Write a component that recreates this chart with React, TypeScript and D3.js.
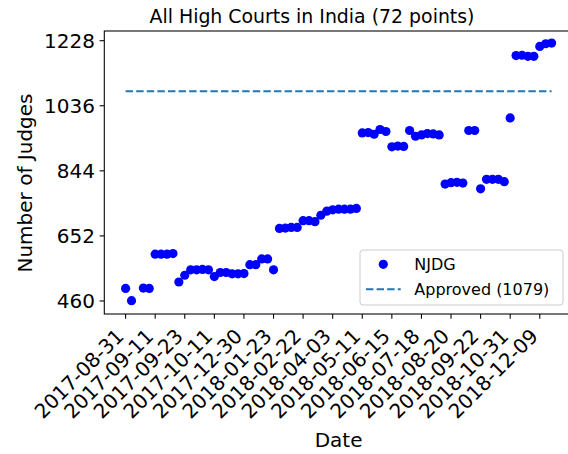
import React from "react";
import * as d3 from "d3";

const judges: (number | null)[] = [
  497, 461, null, 498, 497, 598, 598, 598, 600, 516,
  536, 552, 552, 553, 552, 532, 544, 544, 540, 540,
  541, 567, 567, 584, 584, 552, 674, 675, 677, 677,
  697, 697, 694, 713, 725, 729, 731, 731, 731, 733,
  956, 957, 952, 966, 960, 915, 917, 916, 963, 946,
  950, 954, 953, 950, 805, 809, 810, 808, 963, 963,
  791, 819, 819, 819, 812, 1000, 1184, 1185, 1182, 1182,
  1211, 1219, 1221,
];
const tickDates = [
  "2017-08-31", "2017-09-11", "2017-09-23", "2017-10-11", "2017-12-30",
  "2018-01-23", "2018-02-22", "2018-04-03", "2018-05-11", "2018-06-15",
  "2018-07-18", "2018-08-20", "2018-09-22", "2018-10-31", "2018-12-09",
];
const tickIndex = [0, 5, 10, 15, 20, 25, 30, 35, 40, 45, 50, 55, 60, 65, 70];
const yTicks = [460, 652, 844, 1036, 1228];
const approved = 1079;

const W = 568, H = 454;
const FONT = "DejaVu Sans, sans-serif";

export default function App() {
  const x = d3.scaleLinear().domain([-3.6, 75.6]).range([104.3, 572.9]);
  const y = d3.scaleLinear().domain([421.6, 1256.6]).range([314, 31]);
  const [x0, x1] = x.range();
  const [yb, yt] = y.range();
  const pts = judges
    .map((v, i) => ({ i, v }))
    .filter((d) => d.v !== null) as { i: number; v: number }[];
  const axisColor = "#000";
  return (
    <svg
      width={W}
      height={H}
      style={{ position: "absolute", left: 0, top: 0, background: "#fff" }}
      fontFamily={FONT}
    >
      <rect x={0} y={0} width={W} height={H} fill="#fff" />
      <line
        x1={x(0)}
        x2={x(judges.length - 1)}
        y1={y(approved)}
        y2={y(approved)}
        stroke="#1f77b4"
        strokeWidth={2}
        strokeDasharray="7.4 3.2"
      />
      {pts.map((d) => (
        <circle key={d.i} cx={x(d.i)} cy={y(d.v)} r={4.6} fill="#0000ff" />
      ))}
      <rect
        x={x0}
        y={yt}
        width={x1 - x0}
        height={yb - yt}
        fill="none"
        stroke={axisColor}
        strokeWidth={1.07}
      />
      {yTicks.map((t) => (
        <g key={t}>
          <line x1={x0 - 4.7} x2={x0} y1={y(t)} y2={y(t)} stroke={axisColor} strokeWidth={1.07} />
          <text x={x0 - 9.4} y={y(t)} dy="0.36em" textAnchor="end" fontSize={20} fill="#000">
            {t}
          </text>
        </g>
      ))}
      {tickIndex.map((ti, k) => (
        <g key={ti}>
          <line x1={x(ti)} x2={x(ti)} y1={yb} y2={yb + 4.7} stroke={axisColor} strokeWidth={1.07} />
          <text
            transform={`translate(${x(ti) - 0.5},${yb + 23.5}) rotate(-45)`}
            textAnchor="end"
            fontSize={20}
            fill="#000"
          >
            {tickDates[k]}
          </text>
        </g>
      ))}
      <text x={312} y={23} textAnchor="middle" fontSize={18.9} fill="#000">
        All High Courts in India (72 points)
      </text>
      <text x={(x0 + x1) / 2} y={446.5} textAnchor="middle" fontSize={20} fill="#000">
        Date
      </text>
      <text
        transform={`translate(32,183) rotate(-90)`}
        textAnchor="middle"
        fontSize={20}
        fill="#000"
      >
        Number of Judges
      </text>
      <g>
        <rect x={360} y={250} width={203} height={55} rx={3} fill="#fff" fillOpacity={0.8} stroke="#cccccc" strokeWidth={1} />
        <circle cx={383.3} cy={264.3} r={4.6} fill="#0000ff" />
        <line x1={366} x2={400.7} y1={289.3} y2={289.3} stroke="#1f77b4" strokeWidth={2} strokeDasharray="7.4 3.2" />
        <text x={414.3} y={264.3} dy="0.36em" fontSize={16} fill="#000">NJDG</text>
        <text x={414.3} y={289.3} dy="0.36em" fontSize={16} fill="#000">Approved (1079)</text>
      </g>
    </svg>
  );
}
